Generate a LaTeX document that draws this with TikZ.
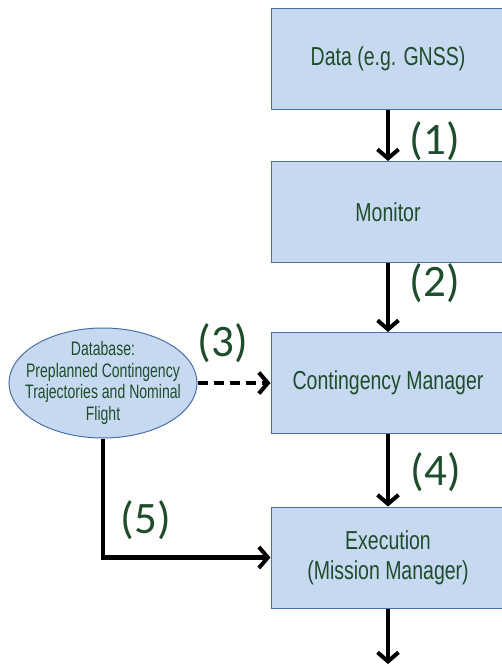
\documentclass[tikz,border=0pt]{standalone}
\usepackage{fontspec}
\usetikzlibrary{shapes.geometric,arrows.meta}
\newfontfamily\boxfont[FakeStretch=0.75]{Liberation Sans}
\newfontfamily\dbfont[FakeStretch=0.72]{Liberation Sans}
\newfontfamily\labfont{Carlito}
\definecolor{boxfill}{RGB}{198,217,241}
\definecolor{boxline}{RGB}{74,111,165}
\definecolor{txtgreen}{RGB}{30,77,43}
\tikzset{
  stagebox/.style={rectangle, draw=boxline, line width=1pt, fill=boxfill,
    minimum width=234pt, minimum height=101pt, inner sep=0pt, align=center,
    text=txtgreen, font=\boxfont\fontsize{26}{30}\selectfont},
  dbshape/.style={ellipse, draw=boxline, line width=1pt, fill=boxfill,
    minimum width=188pt, minimum height=110pt, inner sep=0pt},
  dbtext/.style={align=center, inner sep=0pt,
    text=txtgreen, font=\dbfont\fontsize{19.5}{21.5}\selectfont},
  steplabel/.style={text=txtgreen, font=\labfont\fontsize{45}{48}\selectfont, inner sep=0pt},
  flow/.style={line width=4.5pt, -{Straight Barb[length=9pt, width=21pt, line width=4pt]}},
  optflow/.style={flow, dash pattern=on 10pt off 6pt}
}
\begin{document}
\begin{tikzpicture}[x=1pt, y=-1pt]
  \clip (0,0) rectangle (502,666);
  \fill[white] (0,0) rectangle (502,666);

  % processing chain
  \node[stagebox] (data) at (388,59) {Data (e.g. GNSS)};
  \node[stagebox] (mon)  at (388,212) {Monitor};
  \node[stagebox] (cm)   at (388,383) {Contingency Manager};
  \node[stagebox] (exe)  at (388,557.5) {Execution\\(Mission Manager)};
  \coordinate (out) at (388,664);

  % trajectory database
  \node[dbshape] (db) at (103,383) {};
  \node[dbtext] (dblabel) at (db.center) {Database:\\Preplanned Contingency\\Trajectories and Nominal\\Flight};

  % connectors
  \draw[flow] (data) -- (mon);
  \draw[flow] (mon) -- (cm);
  \draw[flow] (cm) -- (exe);
  \draw[flow] (exe) -- (out);
  \draw[optflow] (db.east) -- (cm.west);
  \draw[flow] (db.south) |- (exe.west);

  % step numbers
  \node[steplabel] (l1) at (435,141) {(1)};
  \node[steplabel] (l2) at (435,283) {(2)};
  \node[steplabel] (l3) at (223,343) {(3)};
  \node[steplabel] (l4) at (436,472) {(4)};
  \node[steplabel] (l5) at (146,520) {(5)};
\end{tikzpicture}
\end{document}
